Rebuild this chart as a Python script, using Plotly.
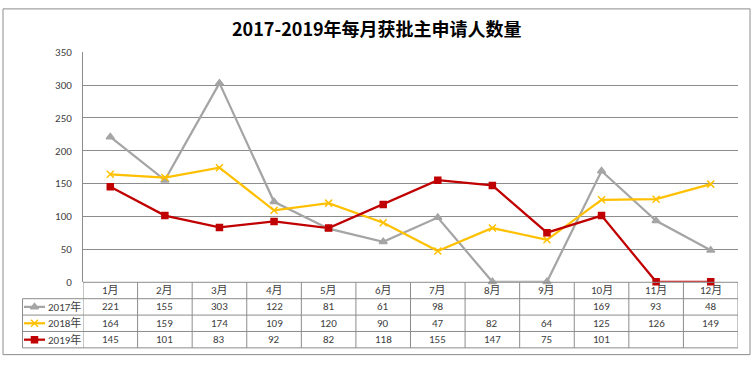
import plotly.graph_objects as go

months = ["1月", "2月", "3月", "4月", "5月", "6月", "7月", "8月", "9月", "10月", "11月", "12月"]
series_names = ["2017年", "2018年", "2019年"]
v2017 = [221, 155, 303, 122, 81, 61, 98, None, None, 169, 93, 48]
v2018 = [164, 159, 174, 109, 120, 90, 47, 82, 64, 125, 126, 149]
v2019 = [145, 101, 83, 92, 82, 118, 155, 147, 75, 101, None, None]
y_ticks = [0, 50, 100, 150, 200, 250, 300, 350]
title = "2017-2019年每月获批主申请人数量"

colors = ["#A5A5A5", "#FFC000", "#C00000"]
symbols = ["triangle-up", "x-thin-open", "square"]
msizes = [7, 7, 6]
all_vals = [v2017, v2018, v2019]

W, H = 754, 365
def px(x):
    return x / W
def py(y):
    return 1 - y / H

FONT = "Calibri, Carlito, 'Liberation Sans', 'Noto Sans CJK SC', sans-serif"
grid_c = "#8C8C8C"
tbl_c = "#8C8C8C"
txt_c = "#404040"

fig = go.Figure()
xs = list(range(len(months)))
for name, vals, c, s, ms in zip(series_names, all_vals, colors, symbols, msizes):
    yv = [v if v is not None else 0 for v in vals]  # Excel plots blanks as zero here
    fig.add_trace(go.Scatter(
        x=xs, y=yv, name=name, mode="lines+markers",
        line=dict(color=c, width=2.25),
        marker=dict(symbol=s, size=ms, color=c, line=dict(color=c, width=1.5)),
        showlegend=False, hoverinfo="skip", cliponaxis=False))

shapes = []
annotations = []

# outer chart border
shapes.append(dict(type="rect", xref="paper", yref="paper",
                   x0=px(3), x1=px(750), y0=py(361.5), y1=py(3),
                   line=dict(color="#8C8C8C", width=1)))

# table geometry (pixels)
row_bounds = [286.5, 303.5, 320.5, 337.5, 354.5]
left_x = 22.5
plot_left = 83
plot_right = 738

for i in range(len(months) + 1):
    shapes.append(dict(type="line", xref="x", yref="paper",
                       x0=i - 0.5, x1=i - 0.5, y0=py(row_bounds[0]), y1=py(row_bounds[-1]),
                       line=dict(color=tbl_c, width=1)))
shapes.append(dict(type="line", xref="paper", yref="paper",
                   x0=px(left_x), x1=px(left_x), y0=py(row_bounds[1]), y1=py(row_bounds[-1]),
                   line=dict(color=tbl_c, width=1)))
for j, yb in enumerate(row_bounds):
    x0 = plot_left if j == 0 else left_x
    shapes.append(dict(type="line", xref="paper", yref="paper",
                       x0=px(x0), x1=px(plot_right), y0=py(yb), y1=py(yb),
                       line=dict(color=tbl_c, width=1)))

for i, m in enumerate(months):
    annotations.append(dict(x=i, xref="x", y=py((row_bounds[0] + row_bounds[1]) / 2), yref="paper",
                            text=m, showarrow=False, font=dict(size=11, color=txt_c, family=FONT),
                            xanchor="center", yanchor="middle"))
for r, (name, vals, c) in enumerate(zip(series_names, all_vals, colors)):
    yc = (row_bounds[r + 1] + row_bounds[r + 2]) / 2
    for i, v in enumerate(vals):
        if v is None:
            continue
        annotations.append(dict(x=i, xref="x", y=py(yc), yref="paper",
                                text=str(v), showarrow=False,
                                font=dict(size=11, color=txt_c, family=FONT),
                                xanchor="center", yanchor="middle"))
    shapes.append(dict(type="line", xref="paper", yref="paper",
                       x0=px(24), x1=px(45), y0=py(yc), y1=py(yc),
                       line=dict(color=c, width=2.25)))
    annotations.append(dict(x=px(46), xref="paper", y=py(yc), yref="paper",
                            text=name, showarrow=False,
                            font=dict(size=11, color=txt_c, family=FONT),
                            xanchor="left", yanchor="middle"))

for r, (c, s, ms) in enumerate(zip(colors, symbols, msizes)):
    yc = (row_bounds[r + 1] + row_bounds[r + 2]) / 2
    fig.add_trace(go.Scatter(x=[px(34.5)], y=[py(yc)], xaxis="x2", yaxis="y2", mode="markers",
                             marker=dict(symbol=s, size=ms, color=c, line=dict(color=c, width=1.5)),
                             showlegend=False, hoverinfo="skip", cliponaxis=False))

annotations.append(dict(x=0.5, xref="paper", y=py(23), yref="paper", text="<b>" + title + "</b>",
                        showarrow=False, font=dict(size=18, color="#000000",
                                                   family="'Noto Sans CJK SC', sans-serif"),
                        xanchor="center", yanchor="middle"))

fig.update_layout(
    width=W, height=H,
    margin=dict(l=0, r=0, t=0, b=0),
    paper_bgcolor="white", plot_bgcolor="rgba(0,0,0,0)",
    xaxis=dict(domain=[px(plot_left), px(plot_right)], range=[-0.5, len(months) - 0.5],
               showgrid=False, showticklabels=False, zeroline=False, showline=False, fixedrange=True),
    yaxis=dict(domain=[py(286), py(48)], range=[0, 350], tickvals=y_ticks,
               showgrid=True, gridcolor=grid_c, gridwidth=1, zeroline=False,
               showline=True, linecolor=grid_c, linewidth=1,
               ticks="", ticklabelstandoff=8,
               tickfont=dict(size=11, color="#404040", family=FONT)),
    xaxis2=dict(domain=[0, 1], range=[0, 1], visible=False, anchor="y2"),
    yaxis2=dict(domain=[0, 1], range=[0, 1], visible=False, anchor="x2"),
    shapes=shapes,
    annotations=annotations,
)

fig.write_html("out.html", config={"displayModeBar": False},
               post_script="document.body.style.margin='0';document.body.style.overflow='hidden';")
